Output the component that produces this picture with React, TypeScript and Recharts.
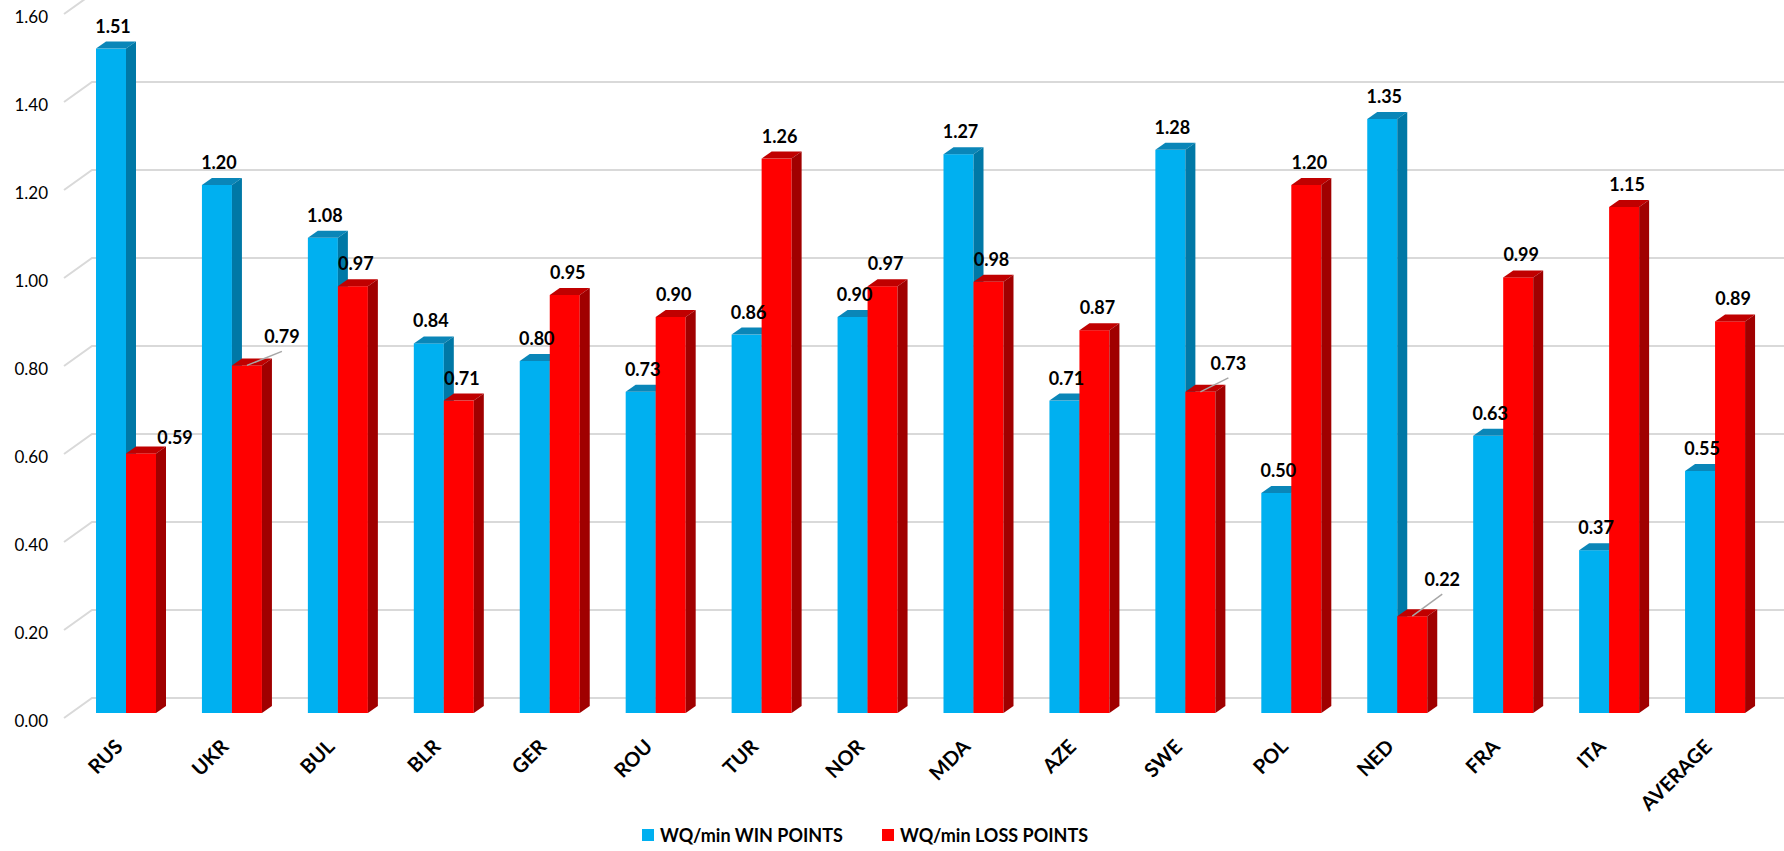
import React from 'react';
import { BarChart, Bar, XAxis, YAxis, CartesianGrid } from 'recharts';

const countries = ['RUS', 'UKR', 'BUL', 'BLR', 'GER', 'ROU', 'TUR', 'NOR', 'MDA', 'AZE', 'SWE', 'POL', 'NED', 'FRA', 'ITA', 'AVERAGE'];
const winPoints = [1.51, 1.2, 1.08, 0.84, 0.8, 0.73, 0.86, 0.9, 1.27, 0.71, 1.28, 0.5, 1.35, 0.63, 0.37, 0.55];
const lossPoints = [0.59, 0.79, 0.97, 0.71, 0.95, 0.9, 1.26, 0.97, 0.98, 0.87, 0.73, 1.2, 0.22, 0.99, 1.15, 0.89];
const yTicks = [0, 0.2, 0.4, 0.6, 0.8, 1.0, 1.2, 1.4, 1.6];

// loss labels that Excel pushed aside (some with a leader line)
const lossLabelShift: Record<string, { dx: number; dy: number; leader: boolean }> = {
  RUS: { dx: 34, dy: -16, leader: false },
  UKR: { dx: 35, dy: -29, leader: true },
  SWE: { dx: 28, dy: -29, leader: true },
  NED: { dx: 30, dy: -37, leader: true },
};

const data = countries.map((c, i) => ({ name: c, win: winPoints[i], loss: lossPoints[i] }));

const FONT = 'Lato, "Open Sans", sans-serif';
const DEPTH_X = 10;
const DEPTH_Y = 7;

const make3DBar = (front: string, top: string, side: string) => (props: any) => {
  const { x, y, width: w, height: h } = props;
  if (h == null || h <= 0) return <g />;
  return (
    <g>
      <rect x={x} y={y} width={w} height={h} fill={front} />
      <polygon points={`${x},${y} ${x + DEPTH_X},${y - DEPTH_Y} ${x + w + DEPTH_X},${y - DEPTH_Y} ${x + w},${y}`} fill={top} />
      <polygon points={`${x + w},${y} ${x + w + DEPTH_X},${y - DEPTH_Y} ${x + w + DEPTH_X},${y + h - DEPTH_Y} ${x + w},${y + h}`} fill={side} />
    </g>
  );
};

const labelText = (x: number, y: number, value: number) => (
  <text x={x} y={y} textAnchor="middle" dominantBaseline="central" fontFamily={FONT} fontWeight={700} fontSize={18} fill="#000">
    {value.toFixed(2)}
  </text>
);

const winLabel = (props: any) => {
  const { x, y, width, value } = props;
  return <g>{labelText(x + width / 2 + 2, y - 23, value)}</g>;
};

const lossLabel = (props: any) => {
  const { x, y, width, value, index } = props;
  const cx = x + width / 2;
  const shift = lossLabelShift[countries[index]];
  if (!shift) return <g>{labelText(cx + 3, y - 23, value)}</g>;
  const lx = cx + shift.dx;
  const ly = y + shift.dy;
  return (
    <g>
      {shift.leader && <line x1={cx} y1={y} x2={lx} y2={ly + 15} stroke="#A6A6A6" strokeWidth={1.5} />}
      {labelText(lx, ly, value)}
    </g>
  );
};

const gridLine = (props: any) => {
  const { y1, key } = props;
  return <path key={key} d={`M64,${y1 + 5} L92,${y1 - 15} L1784,${y1 - 15}`} stroke="#D9D9D9" strokeWidth={2} fill="none" />;
};

const YTick = (props: any) => {
  const { y, payload } = props;
  return (
    <text x={48} y={y + 7} textAnchor="end" dominantBaseline="central" fontFamily={FONT} fontSize={17} fill="#000">
      {Number(payload.value).toFixed(2)}
    </text>
  );
};

const XTick = (props: any) => {
  const { x, y, payload } = props;
  return (
    <text x={0} y={0} transform={`translate(${x - 2},${y + 33}) rotate(-45)`} textAnchor="end" fontFamily={FONT} fontWeight={700} fontSize={20} fill="#000">
      {payload.value}
    </text>
  );
};

const legendItems = [
  { label: 'WQ/min WIN POINTS', color: '#00B0F0', left: 642 },
  { label: 'WQ/min LOSS POINTS', color: '#FF0000', left: 882 },
];

export default function App() {
  return (
    <div style={{ position: 'absolute', left: 0, top: 0, width: 1784, height: 851, background: '#fff' }}>
      <BarChart width={1784} height={851} data={data} margin={{ top: 9, right: 16, bottom: 38, left: 0 }} barGap={0} barSize={30}>
        <CartesianGrid vertical={false} horizontal={gridLine} />
        <XAxis dataKey="name" height={100} axisLine={false} tickLine={false} tickSize={0} tick={<XTick />} interval={0} />
        <YAxis width={73} domain={[0, 1.6]} ticks={yTicks} axisLine={false} tickLine={false} tick={<YTick />} />
        <Bar dataKey="win" isAnimationActive={false} shape={make3DBar('#00B0F0', '#0A86B8', '#0078A6')} label={winLabel} />
        <Bar dataKey="loss" isAnimationActive={false} shape={make3DBar('#FF0000', '#C00000', '#A00000')} label={lossLabel} />
      </BarChart>
      {legendItems.map((item) => (
        <div key={item.label} style={{ position: 'absolute', left: item.left, top: 824, display: 'flex', alignItems: 'center', fontFamily: FONT, fontWeight: 700, fontSize: 18, color: '#000' }}>
          <span style={{ display: 'inline-block', width: 12, height: 12, background: item.color, marginRight: 6 }} />
          <span>{item.label}</span>
        </div>
      ))}
    </div>
  );
}
